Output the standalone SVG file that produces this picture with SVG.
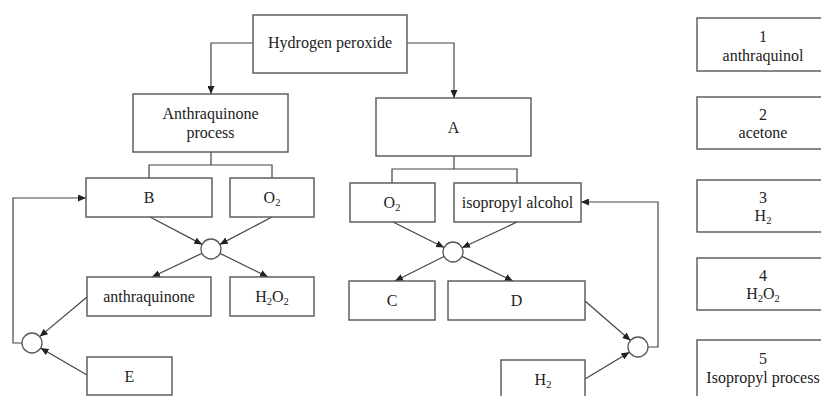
<svg xmlns="http://www.w3.org/2000/svg" width="821" height="396" viewBox="0 0 821 396">
<style>
.box{fill:#fff;stroke:#555;stroke-width:1.4}
.c{fill:#fff;stroke:#555;stroke-width:1.3}
.ln{fill:none;stroke:#444;stroke-width:1.2}
text{font-family:"Liberation Serif","Times New Roman",serif;font-size:16px;fill:#222;text-anchor:middle}
.s{font-size:10.5px}
</style>
<defs>
<marker id="ah" markerUnits="userSpaceOnUse" markerWidth="8" markerHeight="7" refX="8" refY="3.5" orient="auto">
<path d="M0,0 L8,3.5 L0,7 z" fill="#222"/>
</marker>
</defs>
<rect width="821" height="396" fill="#fff"/>
<g id="connectors">
<polyline class="ln" points="253,43 211,43 211,94" marker-end="url(#ah)"/>
<polyline class="ln" points="407,43 454,43 454,98" marker-end="url(#ah)"/>
<polyline class="ln" points="211,152 211,165"/>
<polyline class="ln" points="149,178 149,165 272,165 272,178"/>
<polyline class="ln" points="454,156 454,169"/>
<polyline class="ln" points="392,183 392,169 517,169 517,183"/>
<line class="ln" x1="150" y1="217" x2="202.2" y2="244.4" marker-end="url(#ah)"/>
<line class="ln" x1="272" y1="217" x2="219.8" y2="244.4" marker-end="url(#ah)"/>
<line class="ln" x1="202" y1="253.3" x2="152" y2="277" marker-end="url(#ah)"/>
<line class="ln" x1="220" y1="253.4" x2="268" y2="277" marker-end="url(#ah)"/>
<line class="ln" x1="87" y1="297" x2="39.7" y2="336.6" marker-end="url(#ah)"/>
<line class="ln" x1="87" y1="375" x2="40.6" y2="348" marker-end="url(#ah)"/>
<polyline class="ln" points="22,343 13,343 13,198 86,198" marker-end="url(#ah)"/>
<line class="ln" x1="393" y1="222" x2="444.1" y2="247.5" marker-end="url(#ah)"/>
<line class="ln" x1="517" y1="222" x2="462.1" y2="247.8" marker-end="url(#ah)"/>
<line class="ln" x1="444" y1="256.5" x2="395" y2="281" marker-end="url(#ah)"/>
<line class="ln" x1="462" y1="256.4" x2="513" y2="281" marker-end="url(#ah)"/>
<line class="ln" x1="585" y1="301" x2="630.5" y2="340.5" marker-end="url(#ah)"/>
<line class="ln" x1="585" y1="379" x2="629.4" y2="352.2" marker-end="url(#ah)"/>
<polyline class="ln" points="648,347 658,347 658,202 581,202" marker-end="url(#ah)"/>
</g>
<g id="hydrogen-peroxide"><rect class="box" x="253" y="15" width="154" height="58"/><text x="330" y="48">Hydrogen peroxide</text></g>
<g id="anthraquinone-process"><rect class="box" x="133" y="94" width="155" height="58"/><text x="210.5" y="119">Anthraquinone</text><text x="210.5" y="138">process</text></g>
<g id="A"><rect class="box" x="376" y="98" width="155" height="58"/><text x="453.5" y="133">A</text></g>
<g id="B"><rect class="box" x="86" y="178" width="126" height="39"/><text x="149" y="203">B</text></g>
<g id="O2-left"><rect class="box" x="230" y="178" width="84" height="39"/><text x="272" y="203">O<tspan class="s" dy="3">2</tspan></text></g>
<g id="O2-right"><rect class="box" x="350" y="183" width="85" height="39"/><text x="392" y="208">O<tspan class="s" dy="3">2</tspan></text></g>
<g id="isopropyl-alcohol"><rect class="box" x="454" y="183" width="127" height="39"/><text x="517.5" y="208">isopropyl alcohol</text></g>
<g id="mix1"><circle class="c" cx="211" cy="249" r="10"/></g>
<g id="mix2"><circle class="c" cx="453" cy="252" r="10"/></g>
<g id="anthraquinone"><rect class="box" x="87" y="277" width="124" height="39"/><text x="149" y="302">anthraquinone</text></g>
<g id="H2O2"><rect class="box" x="230" y="277" width="84" height="39"/><text x="272" y="302">H<tspan class="s" dy="3">2</tspan><tspan dy="-3">O</tspan><tspan class="s" dy="3">2</tspan></text></g>
<g id="C"><rect class="box" x="349" y="281" width="86" height="39"/><text x="392" y="306">C</text></g>
<g id="D"><rect class="box" x="448" y="281" width="137" height="39"/><text x="516.5" y="306">D</text></g>
<g id="mix3"><circle class="c" cx="32" cy="343" r="10"/></g>
<g id="mix4"><circle class="c" cx="638" cy="347" r="10"/></g>
<g id="E"><rect class="box" x="87" y="357" width="85" height="38"/><text x="129.5" y="382">E</text></g>
<g id="H2"><rect class="box" x="501" y="360" width="84" height="50"/><text x="543" y="385">H<tspan class="s" dy="3">2</tspan></text></g>
<g id="legend1"><rect class="box" x="697" y="18" width="140" height="53"/><text x="763" y="42">1</text><text x="763" y="60.5">anthraquinol</text></g>
<g id="legend2"><rect class="box" x="697" y="97" width="140" height="52"/><text x="763" y="119.5">2</text><text x="763" y="138">acetone</text></g>
<g id="legend3"><rect class="box" x="697" y="180" width="140" height="52"/><text x="763" y="202.5">3</text><text x="763" y="221">H<tspan class="s" dy="3">2</tspan></text></g>
<g id="legend4"><rect class="box" x="697" y="258" width="140" height="52"/><text x="763" y="280.5">4</text><text x="763" y="299">H<tspan class="s" dy="3">2</tspan><tspan dy="-3">O</tspan><tspan class="s" dy="3">2</tspan></text></g>
<g id="legend5"><rect class="box" x="697" y="340" width="140" height="70"/><text x="763" y="364">5</text><text x="763" y="382.5">Isopropyl process</text></g>
</svg>
